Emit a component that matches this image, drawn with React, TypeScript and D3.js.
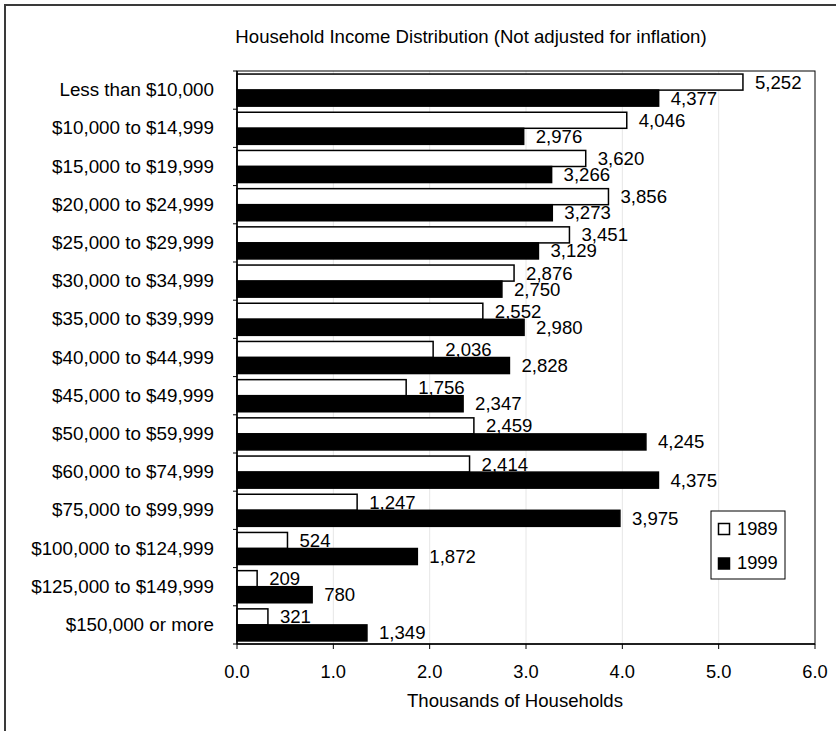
import React from "react";
import * as d3 from "d3";

const categories = [
  "Less than $10,000",
  "$10,000 to $14,999",
  "$15,000 to $19,999",
  "$20,000 to $24,999",
  "$25,000 to $29,999",
  "$30,000 to $34,999",
  "$35,000 to $39,999",
  "$40,000 to $44,999",
  "$45,000 to $49,999",
  "$50,000 to $59,999",
  "$60,000 to $74,999",
  "$75,000 to $99,999",
  "$100,000 to $124,999",
  "$125,000 to $149,999",
  "$150,000 or more",
];
const values1989 = [5252, 4046, 3620, 3856, 3451, 2876, 2552, 2036, 1756, 2459, 2414, 1247, 524, 209, 321];
const values1999 = [4377, 2976, 3266, 3273, 3129, 2750, 2980, 2828, 2347, 4245, 4375, 3975, 1872, 780, 1349];
const seriesNames = ["1989", "1999"];
const xTicks = [0, 1, 2, 3, 4, 5, 6];
const title = "Household Income Distribution (Not adjusted for inflation)";
const xTitle = "Thousands of Households";

const W = 836;
const H = 731;
const FONT = "'Liberation Sans', Arial, sans-serif";

export default function App() {
  const left = 237, right = 815, top = 71, bottom = 644;
  const x = d3.scaleLinear().domain([0, 6]).range([left, right]);
  const y = d3.scaleBand<string>().domain(categories).range([top, bottom]).paddingInner(0).paddingOuter(0);
  const ySub = d3.scaleBand<string>().domain(seriesNames).range([0, y.bandwidth()]).paddingInner(0).paddingOuter(0.19);
  const fmt = d3.format(",");
  const series = [values1989, values1999];
  const fills = ["#ffffff", "#000000"];
  const bw = y.bandwidth();
  const boundaries = categories.map((c) => y(c) as number).concat([bottom]);

  return (
    <svg width={W} height={H} style={{ position: "absolute", left: 0, top: 0, display: "block" }} fontFamily={FONT}>
      <rect x={0} y={0} width={W} height={H} fill="#ffffff" />
      <rect x={5} y={5} width={W + 20} height={H + 20} fill="none" stroke="#3a3a3a" strokeWidth={2} />
      <text x={471} y={43} textAnchor="middle" fontSize={18.6} fill="#000">{title}</text>

      {/* gridlines */}
      {xTicks.slice(1, -1).map((t) => (
        <line key={"g" + t} x1={x(t)} x2={x(t)} y1={top} y2={bottom} stroke="#e6e6e6" strokeWidth={1} />
      ))}
      {/* plot border */}
      <rect x={left} y={top} width={right - left} height={bottom - top} fill="none" stroke="#000" strokeWidth={1} />

      {/* bars */}
      {series.map((vals, si) =>
        categories.map((c, ci) => {
          const yy = (y(c) as number) + (ySub(seriesNames[si]) as number);
          const h = ySub.bandwidth();
          return (
            <rect
              key={si + "-" + ci}
              x={x(0)}
              y={yy}
              width={x(vals[ci] / 1000) - x(0)}
              height={h}
              fill={fills[si]}
              stroke="#000"
              strokeWidth={1.5}
            />
          );
        })
      )}
      {/* value labels */}
      {series.map((vals, si) =>
        categories.map((c, ci) => {
          const yy = (y(c) as number) + (ySub(seriesNames[si]) as number) + ySub.bandwidth() / 2;
          return (
            <text key={"l" + si + "-" + ci} x={x(vals[ci] / 1000) + 12} y={yy + 6.5} fontSize={18.6} fill="#000">
              {fmt(vals[ci])}
            </text>
          );
        })
      )}

      {/* y axis */}
      <line x1={left} x2={left} y1={top} y2={bottom} stroke="#000" strokeWidth={1.5} />
      {boundaries.map((b, i) => (
        <line key={"yt" + i} x1={left - 4} x2={left} y1={b} y2={b} stroke="#000" strokeWidth={1} />
      ))}
      {categories.map((c) => (
        <text key={"c" + c} x={214} y={(y(c) as number) + bw / 2 + 6} textAnchor="end" fontSize={18.8} fill="#000">
          {c}
        </text>
      ))}

      {/* x axis */}
      <line x1={left} x2={right} y1={bottom} y2={bottom} stroke="#000" strokeWidth={1.5} />
      {xTicks.map((t) => (
        <g key={"xt" + t}>
          <line x1={x(t)} x2={x(t)} y1={bottom} y2={bottom + 5} stroke="#000" strokeWidth={1} />
          <text x={x(t)} y={678} textAnchor="middle" fontSize={18.3} fill="#000">{d3.format(".1f")(t)}</text>
        </g>
      ))}
      <text x={515} y={706.5} textAnchor="middle" fontSize={18.6} fill="#000">{xTitle}</text>

      {/* legend */}
      <rect x={711} y={511} width={74} height={68} fill="#fff" stroke="#000" strokeWidth={1} />
      {seriesNames.map((s, i) => (
        <g key={"lg" + s}>
          <rect x={718.5} y={523.5 + i * 34.5} width={11} height={11} fill={fills[i]} stroke="#000" strokeWidth={1.5} />
          <text x={737} y={534.5 + i * 34.5} fontSize={18.3} fill="#000">{s}</text>
        </g>
      ))}
    </svg>
  );
}
